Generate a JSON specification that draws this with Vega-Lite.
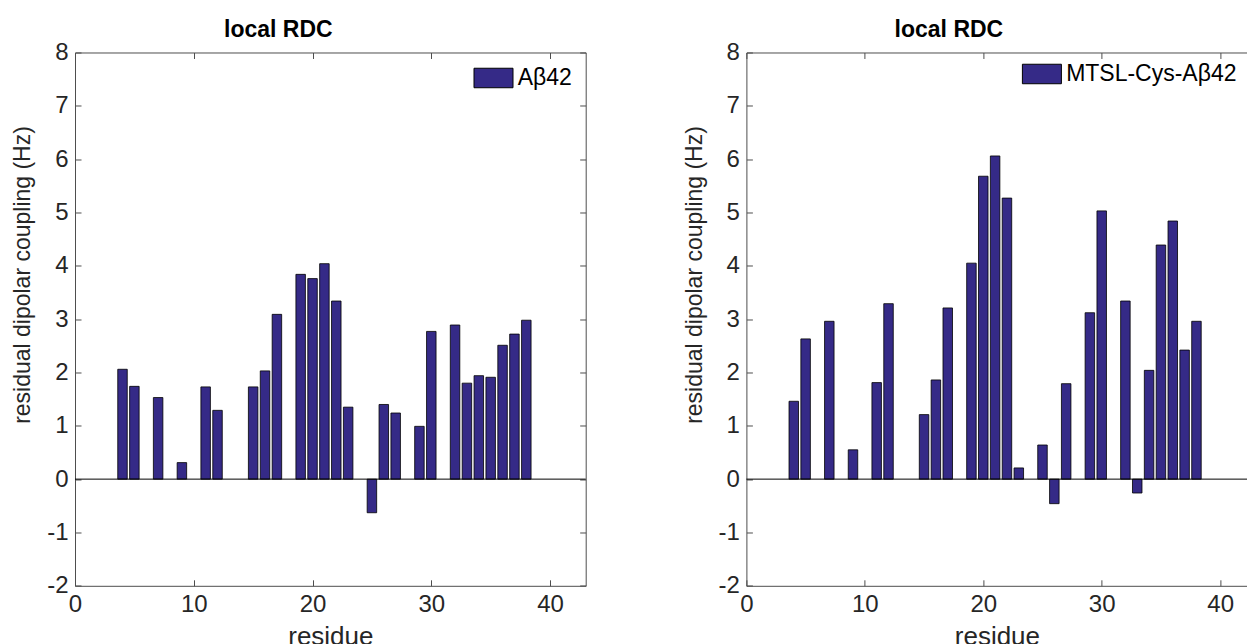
{
  "$schema": "https://vega.github.io/schema/vega-lite/v6.json",
  "padding": {"left": 11, "top": 18.5, "right": 0, "bottom": 0},
  "background": "white",
  "datasets": {
    "ab42": [
      {"residue": 4, "rdc": 2.06, "series": "Aβ42"},
      {"residue": 5, "rdc": 1.74, "series": "Aβ42"},
      {"residue": 7, "rdc": 1.53, "series": "Aβ42"},
      {"residue": 9, "rdc": 0.31, "series": "Aβ42"},
      {"residue": 11, "rdc": 1.73, "series": "Aβ42"},
      {"residue": 12, "rdc": 1.29, "series": "Aβ42"},
      {"residue": 15, "rdc": 1.73, "series": "Aβ42"},
      {"residue": 16, "rdc": 2.03, "series": "Aβ42"},
      {"residue": 17, "rdc": 3.09, "series": "Aβ42"},
      {"residue": 19, "rdc": 3.84, "series": "Aβ42"},
      {"residue": 20, "rdc": 3.76, "series": "Aβ42"},
      {"residue": 21, "rdc": 4.04, "series": "Aβ42"},
      {"residue": 22, "rdc": 3.34, "series": "Aβ42"},
      {"residue": 23, "rdc": 1.35, "series": "Aβ42"},
      {"residue": 25, "rdc": -0.63, "series": "Aβ42"},
      {"residue": 26, "rdc": 1.40, "series": "Aβ42"},
      {"residue": 27, "rdc": 1.24, "series": "Aβ42"},
      {"residue": 29, "rdc": 0.99, "series": "Aβ42"},
      {"residue": 30, "rdc": 2.77, "series": "Aβ42"},
      {"residue": 32, "rdc": 2.89, "series": "Aβ42"},
      {"residue": 33, "rdc": 1.80, "series": "Aβ42"},
      {"residue": 34, "rdc": 1.94, "series": "Aβ42"},
      {"residue": 35, "rdc": 1.91, "series": "Aβ42"},
      {"residue": 36, "rdc": 2.51, "series": "Aβ42"},
      {"residue": 37, "rdc": 2.72, "series": "Aβ42"},
      {"residue": 38, "rdc": 2.98, "series": "Aβ42"}
    ],
    "mtsl": [
      {"residue": 4, "rdc": 1.46, "series": "MTSL-Cys-Aβ42"},
      {"residue": 5, "rdc": 2.63, "series": "MTSL-Cys-Aβ42"},
      {"residue": 7, "rdc": 2.96, "series": "MTSL-Cys-Aβ42"},
      {"residue": 9, "rdc": 0.55, "series": "MTSL-Cys-Aβ42"},
      {"residue": 11, "rdc": 1.81, "series": "MTSL-Cys-Aβ42"},
      {"residue": 12, "rdc": 3.29, "series": "MTSL-Cys-Aβ42"},
      {"residue": 15, "rdc": 1.21, "series": "MTSL-Cys-Aβ42"},
      {"residue": 16, "rdc": 1.86, "series": "MTSL-Cys-Aβ42"},
      {"residue": 17, "rdc": 3.21, "series": "MTSL-Cys-Aβ42"},
      {"residue": 19, "rdc": 4.05, "series": "MTSL-Cys-Aβ42"},
      {"residue": 20, "rdc": 5.68, "series": "MTSL-Cys-Aβ42"},
      {"residue": 21, "rdc": 6.06, "series": "MTSL-Cys-Aβ42"},
      {"residue": 22, "rdc": 5.27, "series": "MTSL-Cys-Aβ42"},
      {"residue": 23, "rdc": 0.21, "series": "MTSL-Cys-Aβ42"},
      {"residue": 25, "rdc": 0.64, "series": "MTSL-Cys-Aβ42"},
      {"residue": 26, "rdc": -0.46, "series": "MTSL-Cys-Aβ42"},
      {"residue": 27, "rdc": 1.79, "series": "MTSL-Cys-Aβ42"},
      {"residue": 29, "rdc": 3.12, "series": "MTSL-Cys-Aβ42"},
      {"residue": 30, "rdc": 5.03, "series": "MTSL-Cys-Aβ42"},
      {"residue": 32, "rdc": 3.34, "series": "MTSL-Cys-Aβ42"},
      {"residue": 33, "rdc": -0.26, "series": "MTSL-Cys-Aβ42"},
      {"residue": 34, "rdc": 2.04, "series": "MTSL-Cys-Aβ42"},
      {"residue": 35, "rdc": 4.39, "series": "MTSL-Cys-Aβ42"},
      {"residue": 36, "rdc": 4.84, "series": "MTSL-Cys-Aβ42"},
      {"residue": 37, "rdc": 2.42, "series": "MTSL-Cys-Aβ42"},
      {"residue": 38, "rdc": 2.96, "series": "MTSL-Cys-Aβ42"}
    ]
  },
  "config": {
    "font": "Liberation Sans",
    "view": {"stroke": null},
    "axis": {
      "grid": false,
      "domainColor": "#4d4d4d",
      "domainWidth": 1,
      "tickColor": "#4d4d4d",
      "tickWidth": 1,
      "tickSize": -6,
      "labelFont": "Liberation Sans",
      "labelFontSize": 24,
      "labelColor": "#262626",
      "labelPadding": 13,
      "titleFont": "Liberation Sans",
      "titleColor": "#262626",
      "titleFontWeight": "normal"
    },
    "title": {
      "font": "Liberation Sans",
      "fontSize": 23,
      "fontWeight": "bold",
      "color": "black",
      "anchor": "middle",
      "frame": "group",
      "baseline": "alphabetic",
      "offset": -1.8
    },
    "legend": {
      "orient": "top-right",
      "padding": 0,
      "title": null,
      "symbolType": "M-2,-1H2V1H-2Z",
      "symbolSize": 380.25,
      "symbolStrokeColor": "black",
      "symbolStrokeWidth": 1,
      "symbolOpacity": 1,
      "labelFont": "Liberation Sans",
      "labelFontSize": 23,
      "labelColor": "black",
      "labelOffset": 12.75,
      "labelLimit": 400
    }
  },
  "spacing": 95.4,
  "resolve": {
    "scale": {"x": "independent", "y": "independent", "color": "independent"},
    "legend": {"color": "independent"}
  },
  "hconcat": [
    {
      "width": 510.7,
      "height": 533.3,
      "title": {"text": "local RDC", "dx": -52},
      "layer": [
        {
          "data": {"name": "ab42"},
          "mark": {"type": "bar", "width": 9.5, "stroke": "black", "strokeWidth": 0.8},
          "encoding": {
            "x": {"field": "residue", "type": "quantitative", "scale": {"domain": [0, 43], "nice": false, "zero": false, "padding": 0},
                  "axis": {"orient": "bottom", "values": [0, 10, 20, 30, 40], "title": "residue", "titleFontSize": 26, "titlePadding": 7, "labelFlush": false}},
            "y": {"field": "rdc", "type": "quantitative", "scale": {"domain": [-2, 8], "nice": false, "padding": 0},
                  "axis": {"orient": "left", "values": [-2, -1, 0, 1, 2, 3, 4, 5, 6, 7, 8], "labelExpr": "'' + datum.value", "title": "residual dipolar coupling (Hz)", "titleFontSize": 23, "titlePadding": 12, "titleY": 222, "labelFlush": false}},
            "color": {"field": "series", "type": "nominal", "scale": {"range": ["#352a87"]}, "legend": {"offset": 14}}
          }
        },
        {
          "data": {"values": [{}]},
          "mark": {"type": "rule", "color": "black", "strokeWidth": 1},
          "encoding": {
            "x": {"datum": 0, "type": "quantitative", "axis": {"orient": "top", "values": [0, 10, 20, 30, 40], "labels": false, "title": null, "minExtent": 0, "maxExtent": 0}},
            "x2": {"datum": 43},
            "y": {"datum": 0, "type": "quantitative", "axis": {"orient": "right", "values": [-2, -1, 0, 1, 2, 3, 4, 5, 6, 7, 8], "labels": false, "title": null, "minExtent": 0, "maxExtent": 0}}
          }
        }
      ]
    },
    {
      "width": 501,
      "height": 533.3,
      "title": {"text": "local RDC", "dx": -48},
      "layer": [
        {
          "data": {"name": "mtsl"},
          "mark": {"type": "bar", "width": 9.5, "stroke": "black", "strokeWidth": 0.8},
          "encoding": {
            "x": {"field": "residue", "type": "quantitative", "scale": {"domain": [0, 42.3], "nice": false, "zero": false, "padding": 0},
                  "axis": {"orient": "bottom", "values": [0, 10, 20, 30, 40], "title": "residue", "titleFontSize": 26, "titlePadding": 7, "labelFlush": false}},
            "y": {"field": "rdc", "type": "quantitative", "scale": {"domain": [-2, 8], "nice": false, "padding": 0},
                  "axis": {"orient": "left", "values": [-2, -1, 0, 1, 2, 3, 4, 5, 6, 7, 8], "labelExpr": "'' + datum.value", "title": "residual dipolar coupling (Hz)", "titleFontSize": 23, "titlePadding": 12, "titleY": 222, "labelFlush": false}},
            "color": {"field": "series", "type": "nominal", "scale": {"range": ["#352a87"]}, "legend": {"offset": 10}}
          }
        },
        {
          "data": {"values": [{}]},
          "mark": {"type": "rule", "color": "black", "strokeWidth": 1},
          "encoding": {
            "x": {"datum": 0, "type": "quantitative", "axis": {"orient": "top", "values": [0, 10, 20, 30, 40], "labels": false, "title": null, "minExtent": 0, "maxExtent": 0}},
            "x2": {"datum": 42.3},
            "y": {"datum": 0, "type": "quantitative"}
          }
        }
      ]
    }
  ]
}
